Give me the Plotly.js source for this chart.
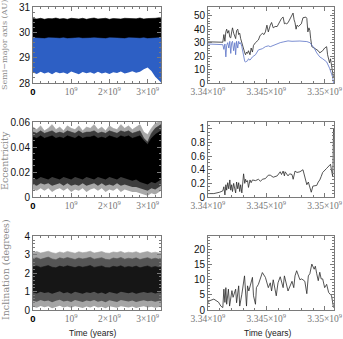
<!DOCTYPE html>
<html>
<head>
<meta charset="utf-8">
<script src="https://cdn.plot.ly/plotly-3.0.1.min.js"></script>
<style>
  html, body { margin: 0; padding: 0; background: #fff; }
  #chart { width: 343px; height: 339px; }
</style>
</head>
<body>
<div id="chart"></div>
<script>
// ---- Long-term evolution (time in Myr), band envelopes of the oscillating elements ----
const tLong = [0,100,200,300,400,500,600,700,800,900,1000,1100,1200,1300,1400,1500,1600,1700,
  1800,1900,2000,2100,2200,2300,2400,2500,2600,2700,2800,2900,3000,3100,3200,3300,3350];

// semi-major axis band (AU)
const aMax = [30.57,30.55,30.58,30.54,30.57,30.56,30.59,30.55,30.57,30.54,30.58,30.56,30.55,30.58,
  30.54,30.57,30.59,30.55,30.56,30.58,30.54,30.57,30.56,30.55,30.58,30.57,30.54,30.56,30.59,30.55,
  30.57,30.56,30.58,30.60,30.57];
const aMin = [29.60,29.62,29.61,29.60,29.63,29.61,29.60,29.62,29.61,29.60,29.62,29.61,29.63,29.60,
  29.61,29.62,29.60,29.61,29.63,29.60,29.62,29.61,29.60,29.62,29.61,29.63,29.60,29.61,29.62,29.60,
  29.61,29.62,29.60,29.58,29.55];
// perihelion band (AU)
const qMax = [29.80,29.78,29.79,29.77,29.80,29.78,29.79,29.78,29.80,29.77,29.79,29.78,29.80,29.78,
  29.77,29.79,29.80,29.78,29.79,29.77,29.80,29.78,29.79,29.78,29.77,29.80,29.78,29.79,29.78,29.80,
  29.77,29.79,29.78,29.80,29.78];
const qMin = [28.42,28.36,28.45,28.38,28.43,28.35,28.44,28.39,28.42,28.36,28.46,28.40,28.35,28.44,
  28.39,28.43,28.37,28.45,28.38,28.42,28.36,28.43,28.40,28.46,28.38,28.42,28.47,28.41,28.45,28.55,
  28.62,28.48,28.25,28.10,28.02];

// eccentricity band: sparse outer fringe, dense fringe, solid core
const eFarMax = [0.056,0.054,0.057,0.053,0.055,0.058,0.054,0.056,0.053,0.057,0.055,0.054,0.057,0.053,
  0.056,0.055,0.058,0.054,0.056,0.053,0.057,0.055,0.054,0.058,0.055,0.057,0.054,0.056,0.058,0.052,
  0.050,0.055,0.059,0.060,0.060];
const eFarMin = [0.006,0.005,0.007,0.005,0.007,0.004,0.006,0.007,0.005,0.007,0.004,0.006,0.005,0.007,
  0.004,0.006,0.007,0.005,0.007,0.004,0.006,0.005,0.007,0.004,0.006,0.005,0.004,0.004,0.003,0.002,
  0.001,0.003,0.002,0.004,0.005];
const eOutMax = [0.052,0.051,0.053,0.051,0.052,0.053,0.051,0.052,0.051,0.053,0.052,0.051,0.053,0.051,
  0.052,0.052,0.053,0.051,0.052,0.051,0.053,0.052,0.051,0.053,0.052,0.053,0.051,0.052,0.053,0.047,
  0.044,0.051,0.055,0.057,0.058];
const eOutMin = [0.010,0.009,0.011,0.010,0.011,0.009,0.010,0.011,0.009,0.011,0.009,0.010,0.009,0.011,
  0.009,0.010,0.011,0.009,0.011,0.009,0.010,0.009,0.011,0.009,0.010,0.009,0.008,0.008,0.007,0.006,
  0.005,0.007,0.006,0.008,0.009];
const eCoreMax = [0.048,0.047,0.049,0.047,0.048,0.049,0.047,0.048,0.047,0.049,0.048,0.047,0.049,0.047,
  0.048,0.048,0.049,0.047,0.048,0.047,0.049,0.048,0.047,0.049,0.048,0.049,0.047,0.048,0.049,0.045,
  0.042,0.047,0.050,0.052,0.053];
const eCoreMin = [0.015,0.014,0.016,0.015,0.014,0.016,0.015,0.014,0.016,0.015,0.014,0.016,0.015,0.014,
  0.016,0.015,0.014,0.016,0.015,0.014,0.016,0.015,0.014,0.016,0.015,0.014,0.013,0.014,0.012,0.011,
  0.010,0.012,0.011,0.013,0.014];

// inclination band (degrees)
const iOutMax = [3.12,3.18,3.10,3.15,3.20,3.12,3.08,3.16,3.11,3.19,3.14,3.09,3.17,3.12,3.15,3.20,3.10,
  3.14,3.18,3.11,3.09,3.16,3.13,3.19,3.10,3.15,3.12,3.17,3.09,3.14,3.18,3.11,3.15,3.10,3.12];
const iOutMin = [0.18,0.12,0.22,0.15,0.20,0.10,0.17,0.23,0.14,0.19,0.12,0.21,0.16,0.11,0.19,0.14,0.22,
  0.13,0.18,0.10,0.20,0.15,0.12,0.21,0.17,0.13,0.19,0.11,0.16,0.20,0.14,0.18,0.12,0.17,0.15];
const iMidMax = [2.80,2.85,2.76,2.82,2.88,2.78,2.74,2.84,2.79,2.86,2.81,2.75,2.83,2.78,2.82,2.87,2.77,
  2.80,2.85,2.76,2.74,2.83,2.79,2.86,2.77,2.82,2.78,2.84,2.75,2.80,2.85,2.77,2.82,2.76,2.79];
const iMidMin = [0.50,0.45,0.55,0.48,0.52,0.42,0.50,0.56,0.46,0.51,0.44,0.54,0.49,0.43,0.52,0.47,0.55,
  0.45,0.50,0.42,0.53,0.48,0.44,0.54,0.50,0.46,0.52,0.43,0.49,0.53,0.47,0.51,0.45,0.50,0.48];
const iCoreMax = [2.35,2.40,2.32,2.38,2.42,2.33,2.30,2.39,2.34,2.41,2.36,2.31,2.38,2.33,2.37,2.42,2.32,
  2.35,2.40,2.31,2.30,2.38,2.34,2.41,2.32,2.37,2.33,2.39,2.30,2.35,2.40,2.32,2.37,2.31,2.34];
const iCoreMin = [0.95,0.90,1.00,0.93,0.97,0.88,0.95,1.02,0.91,0.96,0.89,0.99,0.94,0.88,0.97,0.92,1.00,
  0.90,0.95,0.87,0.98,0.93,0.89,0.99,0.95,0.91,0.97,0.88,0.94,0.98,0.92,0.96,0.90,0.95,0.93];

// ---- Final 11 Myr before ejection (time in Myr) ----
const tA = [3340.00,3340.50,3341.00,3341.27,3341.36,3341.45,3341.53,3341.60,3341.69,3341.78,3341.87,
  3341.95,3342.03,3342.10,3342.20,3342.30,3342.37,3342.45,3342.55,3342.63,3342.72,3342.80,3342.90,
  3343.05,3343.15,3343.22,3343.30,3343.39,3343.47,3343.60,3343.70,3343.81,3343.90,3344.07,3344.20,
  3344.32,3344.45,3344.66,3344.80,3344.92,3345.05,3345.17,3345.34,3345.45,3345.59,3345.75,3345.93,
  3346.05,3346.19,3346.30,3346.44,3346.55,3346.61,3346.75,3346.86,3347.00,3347.20,3347.29,3347.38,
  3347.46,3347.55,3347.63,3347.75,3347.88,3348.00,3348.14,3348.30,3348.39,3348.47,3348.56,3348.65,
  3348.73,3348.80,3348.90,3349.10,3349.32,3349.45,3349.58,3349.70,3349.83,3350.00,3350.17,3350.25,
  3350.42,3350.50,3350.59,3350.68,3350.76];
const aZoom = [30.6,30.5,30.4,30.3,36,31,38,40,37,39,34,33.6,38,41,37,35,33,39,40,36,37,33,30,24,22.4,
  21,23,22,24,21,26,23,28,30,31,32,35,37,36,38,43,38,43,45,41,42,42,44,45.5,48,49,44,44.5,44,44.8,47,
  50.7,52,47,44.8,40,43,42,43,44,48.5,49,49,48,38,41,39,33,27,26,24.6,24,22.4,23,24,26,27,21,15,18,
  14,8,3.7];

const tQ = [3340.00,3340.50,3341.00,3341.27,3341.36,3341.45,3341.53,3341.60,3341.69,3341.78,3341.87,
  3341.95,3342.03,3342.10,3342.20,3342.30,3342.37,3342.45,3342.55,3342.63,3342.72,3342.80,3342.90,
  3343.05,3343.15,3343.22,3343.39,3343.47,3343.60,3343.81,3344.07,3344.32,3344.66,3344.92,3345.17,
  3345.34,3345.59,3345.93,3346.19,3346.44,3346.86,3347.20,3347.63,3347.88,3348.14,3348.47,3348.73,
  3348.90,3349.10,3349.32,3349.58,3349.83,3350.17,3350.42,3350.59,3350.68,3350.76];
const qZoom = [29,28.8,28.6,28.5,25,29,19.4,28,30,26,31,22,30,31,24,30,21,31,26,31,29,30,27,20,16,
  15.7,16.5,18,17,19.4,21,24.6,25.5,27,27.6,27,28,29.5,30,30.5,31.3,31,31.3,31.2,31,30.8,30,28,26,
  22.4,19.4,18,15.7,11,6,4.5,0];

const tE = [3340.00,3340.50,3341.00,3341.27,3341.36,3341.45,3341.53,3341.60,3341.69,3341.78,3341.87,
  3341.95,3342.03,3342.10,3342.20,3342.30,3342.37,3342.45,3342.55,3342.63,3342.72,3342.80,3342.90,
  3343.05,3343.15,3343.22,3343.30,3343.39,3343.47,3343.60,3343.70,3343.81,3344.07,3344.32,3344.50,
  3344.66,3344.92,3345.17,3345.34,3345.59,3345.80,3345.93,3346.19,3346.30,3346.44,3346.55,3346.61,
  3346.86,3347.00,3347.20,3347.30,3347.46,3347.63,3347.88,3348.14,3348.30,3348.47,3348.60,3348.73,
  3348.85,3348.99,3349.32,3349.45,3349.58,3349.70,3349.83,3350.17,3350.34,3350.50,3350.60,3350.68,
  3350.72,3350.76];
const eZoom = [0.05,0.05,0.07,0.09,0.15,0.03,0.18,0.10,0.21,0.12,0.25,0.10,0.18,0.08,0.20,0.14,0.06,
  0.22,0.12,0.21,0.08,0.18,0.06,0.34,0.20,0.26,0.22,0.24,0.14,0.25,0.21,0.25,0.24,0.26,0.23,0.26,0.27,
  0.32,0.32,0.29,0.30,0.31,0.37,0.33,0.38,0.31,0.37,0.31,0.34,0.33,0.26,0.38,0.36,0.37,0.40,0.28,0.18,
  0.22,0.14,0.07,0.16,0.17,0.22,0.25,0.30,0.36,0.42,0.45,0.48,0.38,0.31,0.48,1.0];

const tI = [3340.00,3340.09,3340.50,3340.90,3341.10,3341.27,3341.36,3341.45,3341.53,3341.60,3341.75,
  3341.85,3342.05,3342.15,3342.37,3342.45,3342.63,3342.72,3342.90,3343.05,3343.13,3343.30,3343.39,
  3343.50,3343.81,3343.90,3344.07,3344.15,3344.32,3344.66,3344.75,3344.92,3345.17,3345.34,3345.45,
  3345.59,3345.85,3346.00,3346.19,3346.44,3346.55,3346.86,3347.20,3347.35,3347.46,3347.60,3347.88,
  3348.00,3348.14,3348.30,3348.47,3348.60,3348.73,3348.90,3349.10,3349.20,3349.32,3349.45,3349.58,
  3349.70,3349.83,3350.00,3350.17,3350.34,3350.59,3350.68,3350.76];
const iZoom = [2.4,3.0,3.6,2.6,1.3,0.8,6.9,2.5,7.4,1.9,6.9,1.3,6.4,4.2,6.9,2.4,8.0,1.3,5.2,9.1,11.3,
  1.3,8.0,6.3,10.8,4.7,1.9,7.4,8.5,12.4,11.8,10.8,7.4,9.0,6.3,10.0,4.7,9.0,11.0,7.4,11.3,6.3,9.5,7.4,
  11.3,13.0,10.0,10.3,10.0,9.5,5.4,11.3,12.0,15.2,13.5,14.5,12.0,9.7,12.5,10.3,10.3,7.4,8.5,5.8,4.7,
  1.9,0.8];

const yr = v => v.map(t => t * 1e6);

// filled envelope between two curves on one subplot
function band(t, lo, hi, color, xa, ya) {
  return [
    { x: yr(t), y: lo, xaxis: xa, yaxis: ya, type: 'scatter', mode: 'lines',
      line: { width: 0, color: color }, hoverinfo: 'skip', showlegend: false },
    { x: yr(t), y: hi, xaxis: xa, yaxis: ya, type: 'scatter', mode: 'lines', fill: 'tonexty',
      fillcolor: color, line: { width: 0.6, color: color }, hoverinfo: 'skip', showlegend: false }
  ];
}
function curve(t, v, color, xa, ya) {
  return { x: yr(t), y: v, xaxis: xa, yaxis: ya, type: 'scatter', mode: 'lines',
    line: { width: 0.8, color: color }, showlegend: false };
}

const BLUE = '#2d5fc4';
const traces = [].concat(
  band(tLong, aMin, aMax, '#000000', 'x', 'y'),
  band(tLong, qMin, qMax, BLUE, 'x', 'y'),
  [curve(tA, aZoom, '#2a2a2a', 'x2', 'y2'), curve(tQ, qZoom, '#5a72c6', 'x2', 'y2')],
  band(tLong, eFarMin, eFarMax, '#a8a8a8', 'x3', 'y3'),
  band(tLong, eOutMin, eOutMax, '#3c3c3c', 'x3', 'y3'),
  band(tLong, eCoreMin, eCoreMax, '#000000', 'x3', 'y3'),
  [curve(tE, eZoom, '#2a2a2a', 'x4', 'y4')],
  band(tLong, iOutMin, iOutMax, '#a5a5a5', 'x5', 'y5'),
  band(tLong, iMidMin, iMidMax, '#555555', 'x5', 'y5'),
  band(tLong, iCoreMin, iCoreMax, '#161616', 'x5', 'y5'),
  [curve(tI, iZoom, '#2a2a2a', 'x6', 'y6')]
);

const W = 343, H = 339;
const px = v => v / W, py = v => 1 - v / H;
const colL = [px(33), px(161)], colR = [px(208), px(334)];
const row1 = [py(83), py(7)], row2 = [py(197), py(122)], row3 = [py(310), py(236)];

const FRAME = '#7a7a7a';
const serifTick = { family: 'Liberation Serif, Times New Roman, serif', size: 9.5, color: '#777' };
const sansTick = { family: 'Liberation Sans, Arial, sans-serif', size: 10, color: '#111' };

function ax(extra) {
  return Object.assign({
    showline: true, linecolor: FRAME, linewidth: 1, mirror: 'allticks',
    ticks: 'inside', ticklen: 4, tickcolor: FRAME, tickwidth: 1,
    showgrid: false, zeroline: false, fixedrange: true
  }, extra);
}
const leftTickText = ['<span style="font-family:Liberation Sans;color:#000"><b>0</b></span>',
  '10<sup>9</sup>', '2×10<sup>9</sup>', '3×10<sup>9</sup>'];
const rightTickText = ['3.34×10<sup>9</sup>', '3.345×10<sup>9</sup>', '3.35×10<sup>9</sup>'];
function xLeft(domain, anchor) {
  return ax({ domain: domain, anchor: anchor, range: [0, 3.3508e9], tickmode: 'array',
    tickvals: [0, 1e9, 2e9, 3e9], ticktext: leftTickText, tickfont: serifTick,
    minor: { ticks: 'inside', ticklen: 2, tickcolor: FRAME, tick0: 0, dtick: 2e8 } });
}
function xRight(domain, anchor) {
  return ax({ domain: domain, anchor: anchor, range: [3.34e9, 3.3508e9], tickmode: 'array',
    tickvals: [3.34e9, 3.345e9, 3.35e9], ticktext: rightTickText, tickfont: serifTick,
    minor: { ticks: 'inside', ticklen: 2, tickcolor: FRAME, tick0: 3.34e9, dtick: 1e6 } });
}
function yAx(domain, anchor, range, dtick, mdt, fmt) {
  return ax({ domain: domain, anchor: anchor, range: range, tick0: 0, dtick: dtick,
    tickfont: sansTick, tickformat: fmt || '',
    minor: { ticks: 'inside', ticklen: 2, tickcolor: FRAME, tick0: 0, dtick: mdt } });
}

const titleFont = { family: 'DejaVu Serif, serif', size: 9.5, color: '#8a8a8a' };
const timeFont = { family: 'Liberation Sans, Arial, sans-serif', size: 8.5, color: '#222' };

const layout = {
  width: W, height: H, margin: { l: 0, r: 0, t: 0, b: 0 },
  paper_bgcolor: '#fff', plot_bgcolor: '#fff', showlegend: false,
  xaxis: xLeft(colL, 'y'), yaxis: yAx(row1, 'x', [28, 31.03], 1, 0.2),
  xaxis2: xRight(colR, 'y2'), yaxis2: yAx(row1, 'x2', [0, 56.5], 10, 2),
  xaxis3: xLeft(colL, 'y3'), yaxis3: yAx(row2, 'x3', [0, 0.0601], 0.02, 0.005),
  xaxis4: xRight(colR, 'y4'), yaxis4: yAx(row2, 'x4', [0, 1.1], 0.2, 0.05),
  xaxis5: xLeft(colL, 'y5'), yaxis5: yAx(row3, 'x5', [0, 4.03], 1, 0.2),
  xaxis6: xRight(colR, 'y6'), yaxis6: yAx(row3, 'x6', [0, 24.5], 5, 1),
  annotations: [
    { text: 'Semi−major axis (AU)', xref: 'paper', yref: 'paper', x: px(5), y: py(45),
      textangle: -90, showarrow: false, font: Object.assign({}, titleFont, { size: 8 }),
      xanchor: 'center', yanchor: 'middle' },
    { text: 'Eccentricity', xref: 'paper', yref: 'paper', x: px(5), y: py(161),
      textangle: -90, showarrow: false, font: titleFont, xanchor: 'center', yanchor: 'middle' },
    { text: 'Inclination (degrees)', xref: 'paper', yref: 'paper', x: px(5), y: py(270),
      textangle: -90, showarrow: false, font: titleFont, xanchor: 'center', yanchor: 'middle' },
    { text: 'Time (years)', xref: 'paper', yref: 'paper', x: px(93), y: py(333),
      showarrow: false, font: timeFont, xanchor: 'center', yanchor: 'middle' },
    { text: 'Time (years)', xref: 'paper', yref: 'paper', x: px(268), y: py(333),
      showarrow: false, font: timeFont, xanchor: 'center', yanchor: 'middle' }
  ]
};

Plotly.newPlot('chart', traces, layout, { staticPlot: true, displayModeBar: false });
</script>
</body>
</html>
